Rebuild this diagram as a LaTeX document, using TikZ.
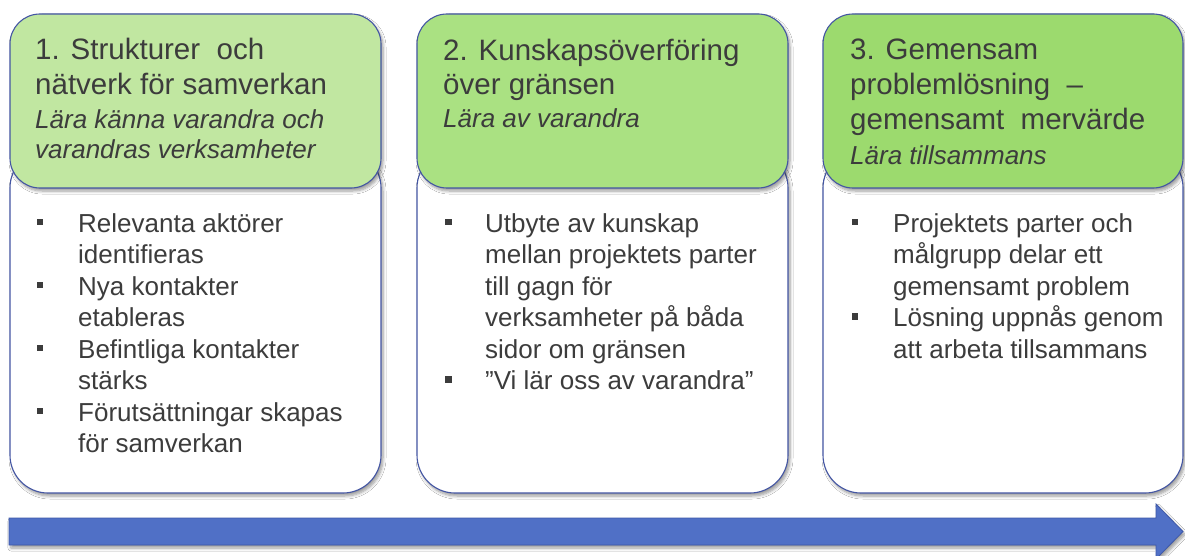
\documentclass[tikz,border=0pt]{standalone}
\usepackage{fontspec}
\setmainfont{Liberation Sans}
\usetikzlibrary{shadows.blur}
\definecolor{edgeblue}{RGB}{68,86,163}
\definecolor{gA}{RGB}{193,231,161}
\definecolor{gB}{RGB}{170,225,130}
\definecolor{gC}{RGB}{156,218,110}
\definecolor{txt}{RGB}{60,60,60}
\definecolor{arrowblue}{RGB}{80,112,198}
\definecolor{arrowedge}{RGB}{62,88,168}
\begin{document}
\begin{tikzpicture}[x=1pt,y=-1pt,
 shadowed/.style={blur shadow={shadow xshift=2pt,shadow yshift=-3pt,shadow blur steps=6,shadow opacity=40,shadow blur radius=3pt}},
 hdr/.style={draw=edgeblue, line width=1.1pt, rounded corners=30pt, shadowed},
 bodybox/.style={draw=edgeblue, line width=1.1pt, fill=white, rounded corners=38pt, shadowed},
 ttl/.style={anchor=base west, inner sep=0pt, text=txt, font=\fontsize{29.5}{35}\selectfont},
 sub/.style={anchor=base west, inner sep=0pt, text=txt, font=\fontsize{26}{30}\selectfont\itshape},
 btxt/.style={anchor=base west, inner sep=0pt, text=txt, font=\fontsize{26}{31.5}\selectfont},
 bul/.style={fill=txt, minimum size=6.5pt, inner sep=0pt},
]
\fill[white] (0,0) rectangle (1185,556);
\useasboundingbox (0,0) rectangle (1185,556);

% bodies
\path[bodybox] (10,150) rectangle (381,493);
\path[bodybox] (417,150) rectangle (788,493);
\path[bodybox] (823,150) rectangle (1183,493);
% headers
\path[hdr, fill=gA] (10,14) rectangle (381,188);
\path[hdr, fill=gB] (417,14) rectangle (788,188);
\path[hdr, fill=gC] (823,14) rectangle (1183,188);

% header texts
\node[ttl] (t1a) at (35,60) {1. Strukturer~ och};
\node[ttl] (t1b) at (35,95) {nätverk för samverkan};
\node[sub] (t1c) at (35,129) {Lära känna varandra och};
\node[sub] (t1d) at (35,159) {varandras verksamheter};

\node[ttl] (t2a) at (443,61) {2. Kunskapsöverföring};
\node[ttl] (t2b) at (443,95) {över gränsen};
\node[sub] (t2c) at (443,128) {Lära av varandra};

\node[ttl] (t3a) at (850,60) {3. Gemensam};
\node[ttl] (t3b) at (850,95) {problemlösning~ –};
\node[ttl] (t3c) at (850,130) {gemensamt~ mervärde};
\node[sub] (t3d) at (850,165) {Lära tillsammans};

% body texts
\foreach \t [count=\i from 0] in {Relevanta aktörer, identifieras, Nya kontakter, etableras, Befintliga kontakter, stärks, Förutsättningar skapas, för samverkan}
  \node[btxt] (b1-\i) at (78,{232+31.5*\i}) {\t};
\foreach \i in {0,2,4,6}
  \node[bul] (p1-\i) at (40,{222+31.5*\i}) {};

\foreach \t [count=\i from 0] in {Utbyte av kunskap, mellan projektets parter, till gagn för, verksamheter på båda, sidor om gränsen, ”Vi lär oss av varandra”}
  \node[btxt] (b2-\i) at (485,{232+31.5*\i}) {\t};
\foreach \i in {0,5}
  \node[bul] (p2-\i) at (448.5,{222+31.5*\i}) {};

\foreach \t [count=\i from 0] in {Projektets parter och, målgrupp delar ett, gemensamt problem, Lösning uppnås genom, att arbeta tillsammans}
  \node[btxt] (b3-\i) at (893,{232+31.5*\i}) {\t};
\foreach \i in {0,3}
  \node[bul] (p3-\i) at (855,{222+31.5*\i}) {};

% big arrow
\draw[draw=arrowedge, fill=arrowblue, line width=0.8pt, shadowed]
  (9,518) -- (1156,518) -- (1156,504) -- (1183,531.5) -- (1156,559) -- (1156,545) -- (9,545) -- cycle;
\end{tikzpicture}
\end{document}
